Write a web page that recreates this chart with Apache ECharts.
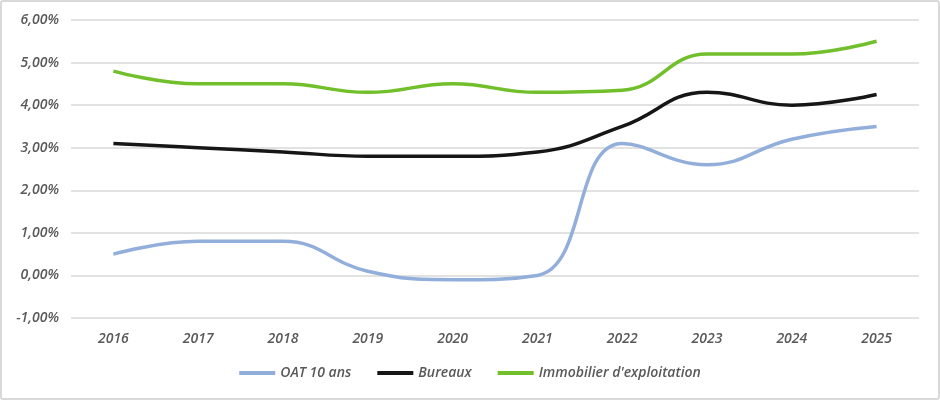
<!DOCTYPE html>
<html style="height: 100%">
<head>
    <meta charset="utf-8">
    <script type="text/javascript" src="https://cdn.jsdelivr.net/npm/echarts@6/dist/echarts.min.js"></script>
</head>
<body style="height: 100%; margin: 0; background: #fff">
<div id="container" style="width: 940px; height: 400px; box-sizing: border-box; border: 2px solid #d9d9d9; border-radius: 3px"></div>
<script type="text/javascript">
    // années
    var years = ['2016', '2017', '2018', '2019', '2020', '2021', '2022', '2023', '2024', '2025'];
    // taux en %
    var oat = [0.5, 0.8, 0.8, 0.1, -0.1, 0.0, 3.1, 2.6, 3.2, 3.5];
    var bureaux = [3.1, 3.0, 2.9, 2.8, 2.8, 2.9, 3.5, 4.3, 4.0, 4.25];
    var immo = [4.8, 4.5, 4.5, 4.3, 4.5, 4.3, 4.35, 5.2, 5.2, 5.5];
    var seriesNames = ['OAT 10 ans', 'Bureaux', "Immobilier d'exploitation"];

    var textStyle = {
        color: '#595959',
        fontFamily: 'Open Sans',
        fontStyle: 'italic',
        fontWeight: 600,
        fontSize: 14
    };

    var dom = document.getElementById("container");
    var myChart = echarts.init(dom, null, {renderer: 'canvas'});

    function line(name, data, color) {
        return {
            name: name,
            type: 'line',
            data: data,
            smooth: 0.45,
            symbol: 'none',
            lineStyle: {color: color, width: 3.5},
            itemStyle: {color: color}
        };
    }

    var option = {
        animation: false,
        grid: {left: 69, right: 19, top: 18, bottom: 80},
        legend: {
            data: seriesNames,
            bottom: 13,
            left: 'center',
            icon: 'rect',
            itemWidth: 36,
            itemHeight: 4,
            itemGap: 26,
            itemStyle: {borderWidth: 0},
            textStyle: textStyle
        },
        xAxis: {
            type: 'category',
            data: years,
            boundaryGap: true,
            axisLine: {show: false},
            axisTick: {show: false},
            axisLabel: Object.assign({margin: 14}, textStyle)
        },
        yAxis: {
            type: 'value',
            min: -1,
            max: 6,
            interval: 1,
            axisLine: {show: false},
            axisTick: {show: false},
            splitLine: {lineStyle: {color: '#d9d9d9', width: 1.5}},
            axisLabel: Object.assign({
                margin: 12,
                formatter: function (v) {
                    return v.toFixed(2).replace('.', ',') + '%';
                }
            }, textStyle)
        },
        series: [
            line(seriesNames[0], oat, '#92aedb'),
            line(seriesNames[1], bureaux, '#161616'),
            line(seriesNames[2], immo, '#72bf2c')
        ]
    };
    myChart.setOption(option);
</script>
</body>
</html>
